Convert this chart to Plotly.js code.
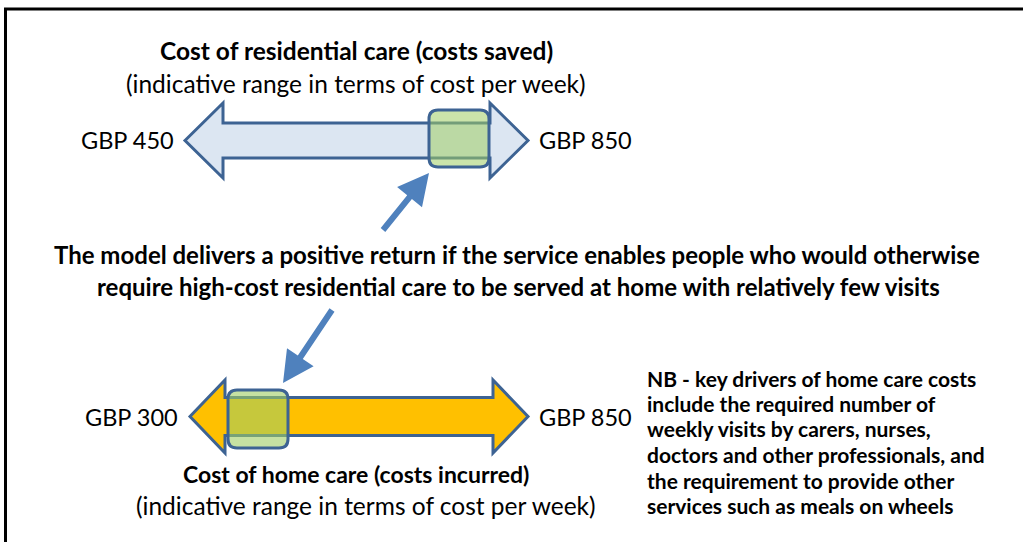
<!DOCTYPE html>
<html><head><meta charset="utf-8">
<script src="https://cdn.plot.ly/plotly-3.0.1.min.js"></script>
<style>html,body{margin:0;padding:0;background:#fff}#chart{width:1023px;height:542px}</style>
</head><body><div id="chart"></div>
<script>
// ---- data ----
const currency = 'GBP';
const residentialRange = [450, 850];
const homeRange = [300, 850];
const residentialTitle = ['Cost of residential care (costs saved)', '(indicative range in terms of cost per week)'];
const homeTitle = ['Cost of home care (costs incurred)', '(indicative range in terms of cost per week)'];
const messageLines = ['The model delivers a positive return if the service enables people who would otherwise',
                      'require high-cost residential care to be served at home with relatively few visits'];
const noteLines = ['NB - key drivers of home care costs', 'include the required number of',
                   'weekly visits by carers, nurses,', 'doctors and other professionals, and',
                   'the requirement to provide other', 'services such as meals on wheels'];

// ---- geometry helpers (layout only) ----
function dblArrow(x0, x1, cy, hw, sh, hl) {
  return `M${x0},${cy} L${x0+hl},${cy-hw} L${x0+hl},${cy-sh} L${x1-hl},${cy-sh} L${x1-hl},${cy-hw} L${x1},${cy} ` +
         `L${x1-hl},${cy+hw} L${x1-hl},${cy+sh} L${x0+hl},${cy+sh} L${x0+hl},${cy+hw} Z`;
}
function roundRect(x0, y0, x1, y1, r) {
  return `M${x0+r},${y0} L${x1-r},${y0} Q${x1},${y0} ${x1},${y0+r} L${x1},${y1-r} Q${x1},${y1} ${x1-r},${y1} ` +
         `L${x0+r},${y1} Q${x0},${y1} ${x0},${y1-r} L${x0},${y0+r} Q${x0},${y0} ${x0+r},${y0} Z`;
}
function pointer(tx, ty, hx, hy, sw, hl, hw) {
  const dx = hx - tx, dy = hy - ty, L = Math.hypot(dx, dy);
  const ux = dx / L, uy = dy / L, px = -uy, py = ux;
  const bx = hx - ux * hl, by = hy - uy * hl;
  const p = [
    [tx + px*sw, ty + py*sw], [bx + px*sw, by + py*sw], [bx + px*hw, by + py*hw], [hx, hy],
    [bx - px*hw, by - py*hw], [bx - px*sw, by - py*sw], [tx - px*sw, ty - py*sw]
  ];
  return 'M' + p.map(q => q[0].toFixed(1) + ',' + q[1].toFixed(1)).join(' L') + ' Z';
}

const outline = '#3d6393';
const shapes = [
  {type:'line', x0:4, x1:1023, y0:9, y1:9, line:{color:'#000', width:3}},
  {type:'line', x0:5.5, x1:5.5, y0:9, y1:542, line:{color:'#000', width:3}},
  {type:'path', path: dblArrow(185, 528, 140.5, 37.5, 17.5, 38), fillcolor:'#dce6f2', line:{color:outline, width:3}},
  {type:'path', path: roundRect(429, 110, 489, 167, 9), fillcolor:'rgba(160,205,100,0.55)', line:{color:outline, width:3}},
  {type:'path', path: dblArrow(190, 528, 416.5, 36.5, 19, 35), fillcolor:'#ffc000', line:{color:outline, width:3}},
  {type:'path', path: roundRect(228, 390, 288, 448, 9), fillcolor:'rgba(160,205,100,0.6)', line:{color:outline, width:3}},
  {type:'path', path: pointer(383, 230, 429, 173, 3, 31, 16), fillcolor:'#4f81bd', line:{width:0}},
  {type:'path', path: pointer(332, 310, 283, 383, 3, 31, 16), fillcolor:'#4f81bd', line:{width:0}}
];

const F = 'Lato, "Open Sans", sans-serif';
function txt(text, x, y, size, weight, anchor) {
  return {text, x, y, xref:'x', yref:'y', showarrow:false, xanchor: anchor || 'center', yanchor:'middle',
          font:{family:F, size, color:'#000', weight: weight || 'normal'}};
}
const annotations = [
  txt(residentialTitle[0], 356, 50, 24.5, 'bold'),
  txt(residentialTitle[1], 356, 83, 24.5, 'normal'),
  txt(currency + ' ' + residentialRange[0], 176, 140, 23.5, 'normal', 'right'),
  txt(currency + ' ' + residentialRange[1], 537, 140, 23.5, 'normal', 'left'),
  txt(messageLines[0], 517, 254, 24, 'bold'),
  txt(messageLines[1], 518, 286, 24, 'bold'),
  txt(currency + ' ' + homeRange[0], 180, 417, 23.5, 'normal', 'right'),
  txt(currency + ' ' + homeRange[1], 537, 417, 23.5, 'normal', 'left'),
  txt(homeTitle[0], 356, 474, 23, 'bold'),
  txt(homeTitle[1], 366, 505, 24.5, 'normal')
];
const noteY = [378, 403, 428, 454, 480, 505];
noteLines.forEach((t, i) => annotations.push(txt(t, 645, noteY[i], 21, 'bold', 'left')));

Plotly.newPlot('chart', [], {
  width:1023, height:542, margin:{l:0, r:0, t:0, b:0},
  paper_bgcolor:'#fff', plot_bgcolor:'#fff',
  xaxis:{range:[0,1023], visible:false, fixedrange:true},
  yaxis:{range:[542,0], visible:false, fixedrange:true},
  shapes, annotations, showlegend:false
}, {displayModeBar:false, staticPlot:true});
</script>
</body></html>
